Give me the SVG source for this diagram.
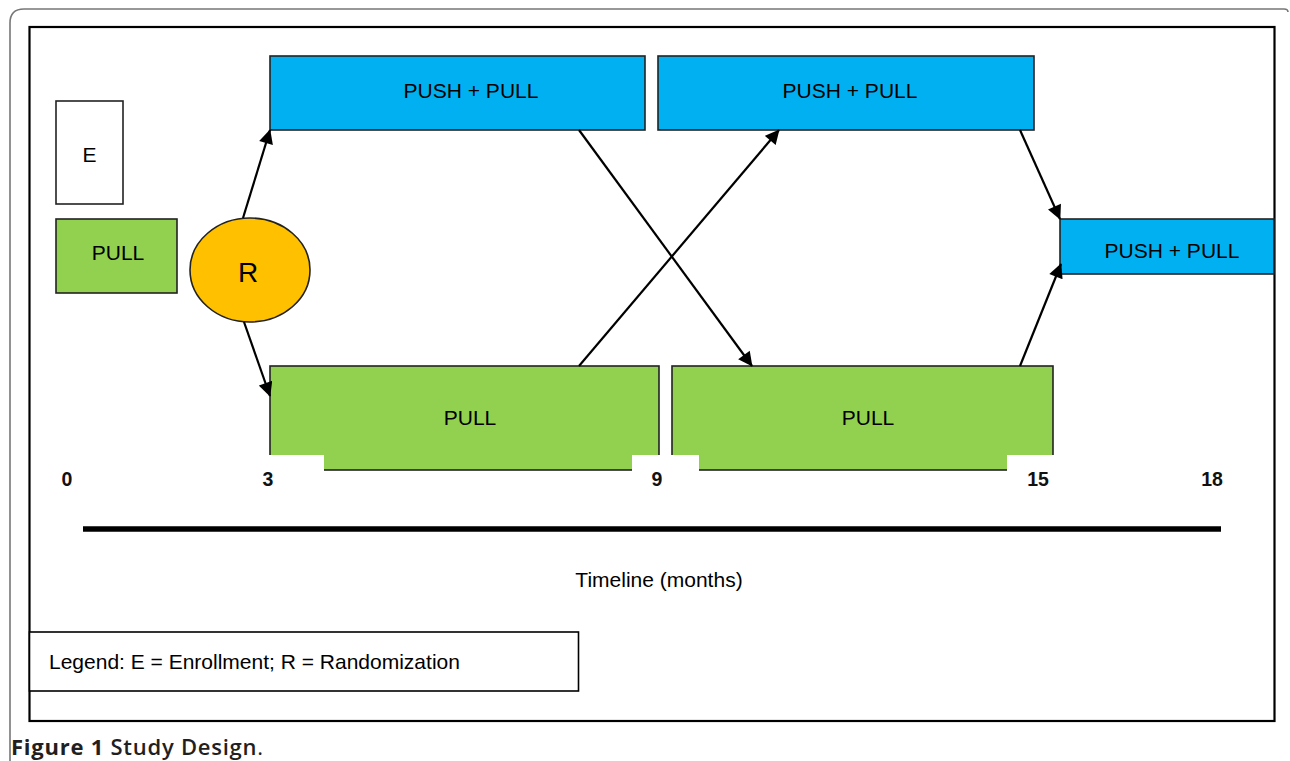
<svg xmlns="http://www.w3.org/2000/svg" width="1290" height="761" viewBox="0 0 1290 761">
<defs>
<style>
.t{font-family:"Liberation Sans",Arial,sans-serif;font-size:21px;fill:#000;text-anchor:middle}
.n{font-family:"Liberation Sans",Arial,sans-serif;font-size:19.5px;font-weight:bold;fill:#111;text-anchor:middle}
.box{stroke:#222;stroke-width:1.6}
.blue{fill:#00B0F0}
.green{fill:#92D050}
.conn{stroke:#000;stroke-width:2.2;fill:none;marker-end:url(#ah)}
</style>
<marker id="ah" viewBox="0 0 10 10" refX="9.5" refY="5" markerWidth="7" markerHeight="6.5" orient="auto" markerUnits="strokeWidth">
<path d="M0,0 L10,5 L0,10 z" fill="#000"/>
</marker>
</defs>
<rect width="1290" height="761" fill="#fff"/>
<path d="M10 761 V23 Q10 9 24 9 H1284 Q1288 9 1288 12" fill="none" stroke="#777" stroke-width="1.6"/>
<rect x="29.5" y="27" width="1245" height="694" fill="none" stroke="#000" stroke-width="2.2"/>

<g id="node-E">
<rect x="56" y="101" width="67" height="103" fill="#fff" class="box"/>
<text x="89.5" y="162" class="t">E</text>
</g>
<g id="node-pull0">
<rect x="56" y="219" width="121" height="74" class="box green"/>
<text x="118" y="260" class="t">PULL</text>
</g>
<g id="node-R">
<ellipse cx="250" cy="270" rx="60" ry="52" fill="#FFC000" stroke="#222" stroke-width="1.6"/>
<text x="248" y="282" class="t" style="font-size:28px">R</text>
</g>
<g id="node-pp1">
<rect x="270" y="56" width="375" height="74" class="box blue"/>
<text x="471" y="98" class="t">PUSH + PULL</text>
</g>
<g id="node-pp2">
<rect x="658" y="56" width="376" height="74" class="box blue"/>
<text x="850" y="98" class="t">PUSH + PULL</text>
</g>
<g id="node-pp3">
<rect x="1060" y="219" width="214" height="55" class="box blue"/>
<text x="1172" y="258" class="t">PUSH + PULL</text>
</g>
<g id="node-pullA">
<rect x="270" y="366" width="389" height="104" class="box green"/>
<text x="470" y="425" class="t">PULL</text>
</g>
<g id="node-pullB">
<rect x="672" y="366" width="381" height="104" class="box green"/>
<text x="868" y="425" class="t">PULL</text>
</g>

<g id="labels">
<rect x="255" y="455" width="69" height="40" fill="#fff"/>
<rect x="632" y="455" width="67" height="40" fill="#fff"/>
<rect x="1007" y="455" width="60" height="40" fill="#fff"/>
<text x="67" y="486" class="n">0</text>
<text x="268" y="486" class="n">3</text>
<text x="657" y="486" class="n">9</text>
<text x="1038" y="486" class="n">15</text>
<text x="1212" y="486" class="n">18</text>
<line x1="83" y1="529" x2="1221" y2="529" stroke="#000" stroke-width="5.5"/>
<text x="659" y="587" class="t">Timeline (months)</text>
</g>

<g id="connectors">
<line x1="243" y1="218" x2="270" y2="130" class="conn"/>
<line x1="244" y1="322" x2="270" y2="396" class="conn"/>
<line x1="579" y1="130" x2="752" y2="366" class="conn"/>
<line x1="579" y1="366" x2="779" y2="130" class="conn"/>
<line x1="1020" y1="130" x2="1060" y2="219" class="conn"/>
<line x1="1020" y1="366" x2="1061" y2="264" class="conn"/>
</g>

<g id="legend">
<rect x="29.5" y="632" width="549" height="59" fill="#fff" stroke="#000" stroke-width="1.6"/>
<text x="49" y="669" class="t" style="text-anchor:start">Legend: E = Enrollment; R = Randomization</text>
</g>

<text x="11" y="755" textLength="252" lengthAdjust="spacing" style="font-family:'Open Sans','Noto Sans',sans-serif;font-size:22px;fill:#231f20"><tspan font-weight="bold">Figure 1</tspan><tspan font-weight="600"> Study Design</tspan>.</text>
</svg>
